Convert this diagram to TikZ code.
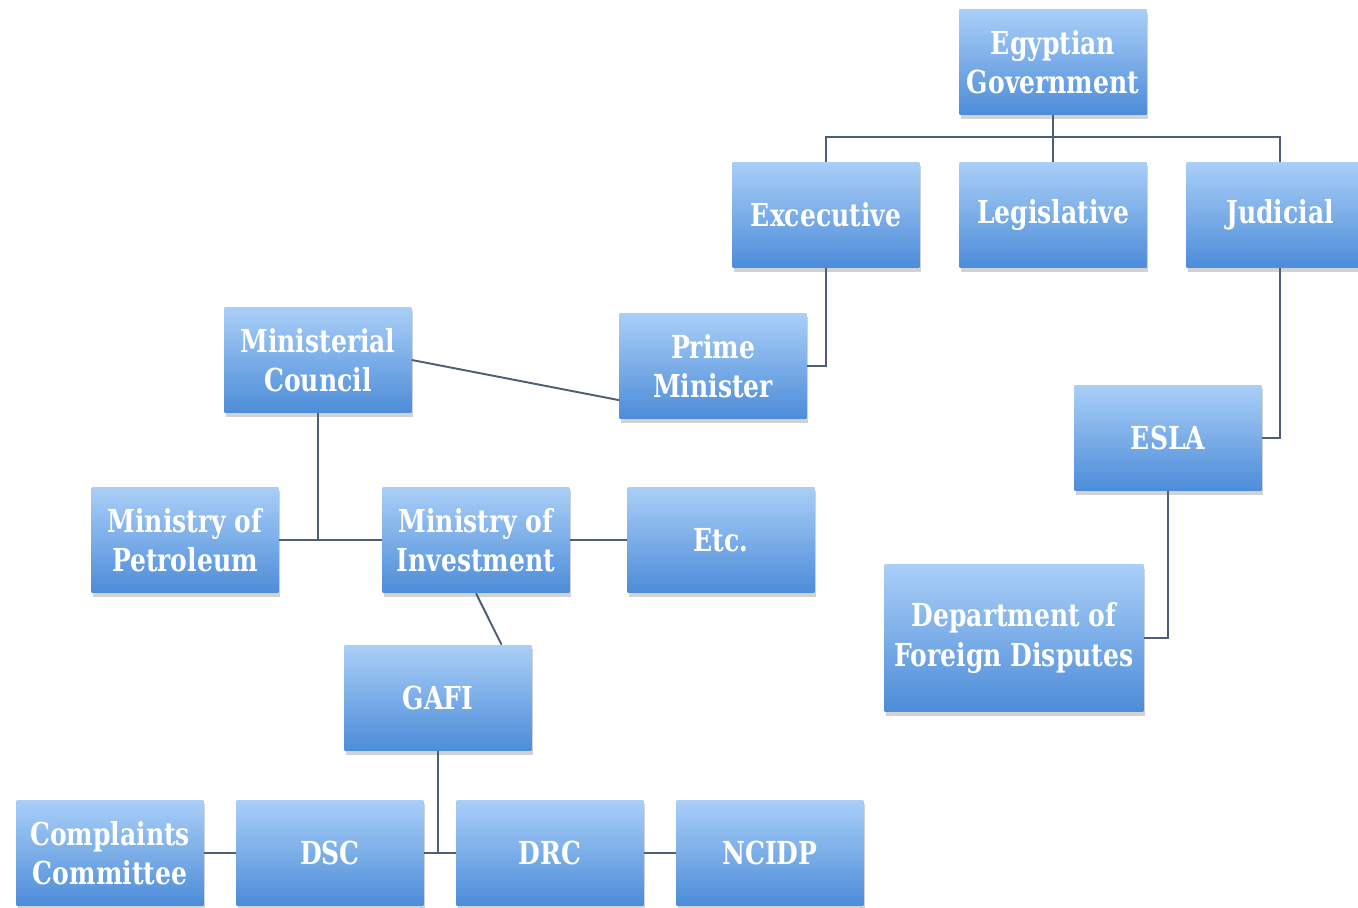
\documentclass[tikz,border=0pt]{standalone}
\usepackage{fontspec}
\newfontfamily\orgfont[FakeStretch=0.88]{DejaVu Serif Condensed}
\usepackage{tikz}
\usetikzlibrary{shadows}

\definecolor{boxtop}{RGB}{170,207,248}
\definecolor{boxbot}{RGB}{76,140,216}
\definecolor{wire}{RGB}{78,94,116}

\begin{document}
\begin{tikzpicture} [x=0.02cm, y=-0.02cm,
  unit/.style={rectangle, inner sep=0pt, minimum width=3.74cm, minimum height=2.12cm,
    top color=boxtop, bottom color=boxbot, text=white, align=center,
    font=\orgfont\bfseries\fontsize{18}{22.5}\selectfont,
    drop shadow={shadow xshift=1pt, shadow yshift=-2.5pt, opacity=0.25, fill=black!70}},
  wide/.style={unit, minimum width=5.18cm, minimum height=2.94cm},
  link/.style={draw=wire, line width=1.1pt}]
\useasboundingbox (0,0) rectangle (1358,908);
\node[unit](gov) at (1053,62) {Egyptian\\Government};
\node[unit](exe) at (826,215) {Excecutive};
\node[unit](leg) at (1053,215) {Legislative};
\node[unit](jud) at (1280,215) {Judicial};
\node[unit](pm) at (713,366) {Prime\\Minister};
\node[unit](mc) at (318,360) {Ministerial\\Council};
\node[unit](esla) at (1168,438) {ESLA};
\node[wide](dfd) at (1014,638) {Department of\\Foreign Disputes};
\node[unit](pet) at (185,540) {Ministry of\\Petroleum};
\node[unit](inv) at (476,540) {Ministry of\\Investment};
\node[unit](etc) at (721,540) {Etc.};
\node[unit](gafi) at (438,698) {GAFI};
\node[unit](comp) at (110,853) {Complaints\\Committee};
\node[unit](dsc) at (330,853) {DSC};
\node[unit](drc) at (550,853) {DRC};
\node[unit](ncidp) at (770,853) {NCIDP};
% government branches
\coordinate (bus) at (1053,137);
\draw[link] (gov.south) -- (bus);
\draw[link] (exe.north) |- (bus) -| (jud.north);
\draw[link] (leg.north) -- (bus);
\draw[link] (exe.south) |- (pm.east);
\draw[link] (mc.east) -- (pm.200);
\draw[link] (jud.south) |- (esla.east);
\draw[link] (esla.south) |- (dfd.east);
% ministries
\draw[link] (pet) -- (inv);
\draw[link] (inv) -- (etc);
\draw[link] (mc.south) -- (mc.south |- inv.west);
\draw[link] (inv.south) -- (gafi.40);
% GAFI units
\draw[link] (dsc) -- (drc);
\draw[link] (gafi.south) -- (gafi.south |- dsc.east);
\draw[link] (comp) -- (dsc);
\draw[link] (drc) -- (ncidp);
\end{tikzpicture}
\end{document}
